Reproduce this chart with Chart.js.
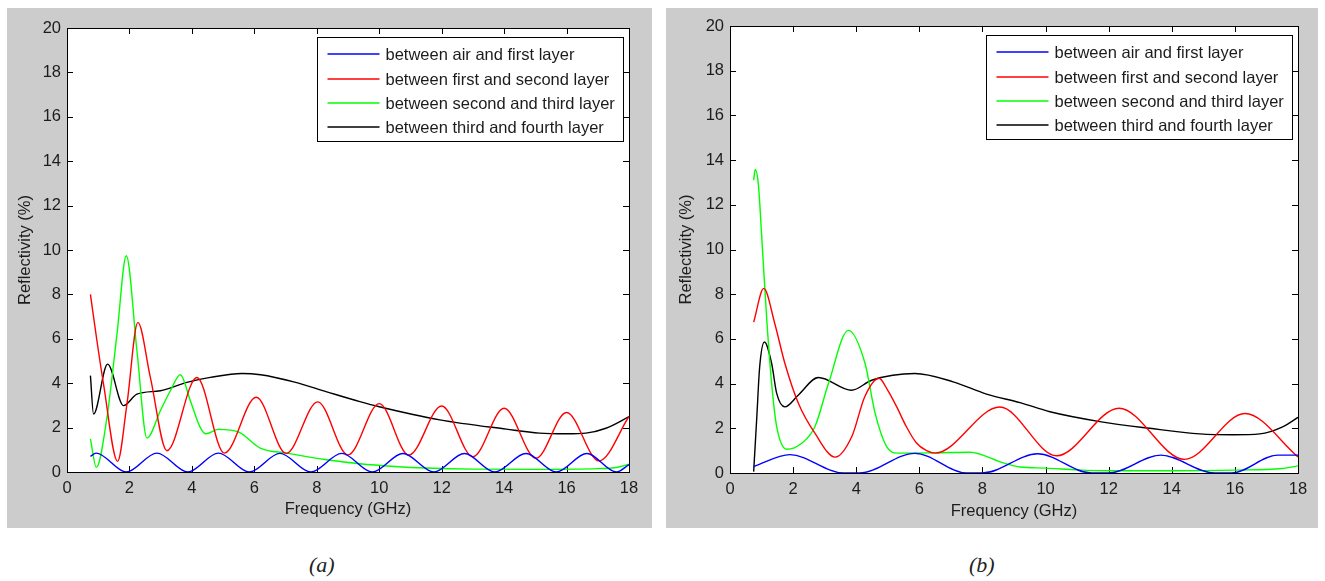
<!DOCTYPE html>
<html>
<head>
<meta charset="utf-8">
<script src="https://cdn.jsdelivr.net/npm/chart.js@4.4.1/dist/chart.umd.min.js"></script>
<style>
  body { margin: 0; width: 1325px; height: 581px; background: #fff; position: relative; overflow: hidden; }
  .panel { position: absolute; background: #cccccc; }
  #panelA { left: 7px; top: 8px; width: 645px; height: 520px; }
  #panelB { left: 666px; top: 8px; width: 652px; height: 520px; }
  .caption { position: absolute; top: 553px; line-height: 24px; font-family: "Liberation Serif", "DejaVu Serif", serif; font-style: italic; font-size: 22px; color: #222; }
</style>
</head>
<body>
<div class="panel" id="panelA"><canvas id="chartA" width="645" height="520"></canvas></div>
<div class="panel" id="panelB"><canvas id="chartB" width="652" height="520"></canvas></div>
<div class="caption" id="capA" style="left:309px"></div>
<div class="caption" id="capB" style="left:969px"></div>
<script>
// legend texts, colours and ticks
const seriesLabels = [
  'between air and first layer',
  'between first and second layer',
  'between second and third layer',
  'between third and fourth layer'
];
const seriesColors = ['#0000ff', '#ff0000', '#00ff00', '#000000'];
const xTicks = [0, 2, 4, 6, 8, 10, 12, 14, 16, 18];
const yTicks = [0, 2, 4, 6, 8, 10, 12, 14, 16, 18, 20];
const xTitle = 'Frequency (GHz)';
const yTitle = 'Reflectivity (%)';
const captions = ['(a)', '(b)'];

// panel (a) (GHz, %)
const blueFreqA = [0.75, 0.93, 1.9, 2.88, 3.87, 4.85, 5.84, 6.82, 7.81, 8.8, 9.78, 10.76, 11.75, 12.73, 13.7, 14.7, 15.67, 16.65, 17.6, 18];
const blueValsA = [0.7, 0.85, 0, 0.85, 0, 0.85, 0, 0.84, 0, 0.84, 0, 0.83, 0, 0.83, 0, 0.83, 0, 0.83, 0, 0.33];
const redFreqA = [0.75, 0.96, 1.17, 1.62, 1.92, 2.27, 2.67, 3.2, 4.16, 5.04, 6.06, 7.02, 8.03, 9.0, 10.0, 10.95, 12.0, 13.0, 14.0, 15.02, 16.0, 17.04, 18];
const redValsA = [8.0, 5.9, 3.96, 0.48, 3.06, 6.74, 4.26, 0.96, 4.26, 0.85, 3.37, 0.84, 3.16, 0.77, 3.08, 0.76, 2.97, 0.69, 2.87, 0.62, 2.68, 0.5, 2.5];
const greenFreqA = [0.75, 0.94, 1.28, 1.6, 1.9, 2.24, 2.56, 2.99, 3.31, 3.63, 3.95, 4.27, 4.45, 4.85, 5.5, 6.19, 7.04, 8.32, 9.38, 10.5, 11.5, 13.0, 15.0, 17.0, 17.6, 18];
const greenValsA = [1.49, 0.21, 2.46, 6.2, 9.74, 5.46, 1.53, 2.76, 3.66, 4.38, 3.21, 2.0, 1.72, 1.92, 1.8, 1.08, 0.85, 0.55, 0.37, 0.25, 0.18, 0.13, 0.12, 0.15, 0.2, 0.35];
const blackFreqA = [0.75, 0.85, 1.3, 1.81, 2.24, 2.99, 3.84, 4.59, 5.6, 6.2, 7.26, 8.32, 9.38, 10.0, 11.94, 14.07, 15.13, 16.0, 16.62, 17.26, 18];
const blackValsA = [4.34, 2.61, 4.86, 2.99, 3.51, 3.66, 4.04, 4.26, 4.44, 4.38, 4.06, 3.61, 3.17, 2.94, 2.35, 1.93, 1.75, 1.72, 1.75, 1.97, 2.49];

// panel (b)
const blueFreqB = [0.75, 1.9, 3.6, 4.1, 5.86, 7.5, 8.0, 9.75, 11.45, 12.0, 13.65, 15.35, 15.9, 17.35, 18];
const blueValsB = [0.29, 0.82, 0, 0, 0.88, 0, 0, 0.86, 0, 0, 0.8, 0, 0, 0.8, 0.8];
const redFreqB = [0.75, 1.07, 1.42, 1.74, 2.17, 2.69, 3.33, 3.86, 4.27, 4.72, 5.0, 5.28, 5.59, 5.91, 6.23, 6.5, 8.55, 10.35, 12.33, 14.4, 16.32, 18];
const redValsB = [6.75, 8.26, 6.68, 4.9, 3.11, 1.78, 0.71, 1.63, 3.41, 4.24, 3.7, 2.97, 2.07, 1.34, 1.0, 0.89, 2.95, 0.77, 2.9, 0.61, 2.66, 0.72];
const greenFreqB = [0.75, 0.8, 0.9, 1.0, 1.16, 1.32, 1.48, 1.8, 2.27, 2.69, 3.12, 3.75, 4.28, 4.6, 4.96, 5.3, 6.5, 7.6, 8.66, 9.2, 10.0, 11.0, 12.0, 14.0, 16.0, 17.5, 18];
const greenValsB = [13.1, 13.58, 12.9, 10.7, 6.97, 4.0, 2.07, 1.06, 1.33, 2.07, 4.0, 6.38, 4.9, 2.67, 1.19, 0.89, 0.9, 0.93, 0.45, 0.27, 0.22, 0.14, 0.1, 0.1, 0.13, 0.2, 0.32];
const blackFreqB = [0.75, 0.85, 0.94, 1.09, 1.32, 1.48, 1.74, 2.16, 2.8, 3.85, 4.49, 5.86, 7.07, 8.13, 9.19, 10.14, 11.72, 13.3, 14.89, 15.94, 16.79, 17.53, 18];
const blackValsB = [0.06, 2.52, 4.74, 5.86, 4.9, 3.56, 2.96, 3.48, 4.27, 3.7, 4.15, 4.45, 4.08, 3.53, 3.15, 2.74, 2.3, 2.0, 1.75, 1.71, 1.75, 2.08, 2.49];

const FONT = '"Liberation Sans", Arial, sans-serif';
const TEXT = '#1c1c1c';

function pts(freqs, vals) {
  return freqs.map((f, i) => ({ x: f, y: vals[i] }));
}

// matlab style box: white area, inner ticks on all sides, legend in the corner
const boxAxes = {
  id: 'boxAxes',
  beforeDraw(chart) {
    const { ctx, chartArea: a } = chart;
    ctx.save();
    ctx.fillStyle = '#ffffff';
    ctx.fillRect(a.left, a.top, a.width, a.height);
    ctx.restore();
  },
  beforeDatasetsDraw(chart) {
    const { ctx, chartArea: a, scales } = chart;
    const len = 6;
    ctx.save();
    ctx.strokeStyle = '#000';
    ctx.lineWidth = 1;
    ctx.beginPath();
    scales.x.ticks.forEach(t => {
      const px = Math.round(scales.x.getPixelForValue(t.value)) + 0.5;
      ctx.moveTo(px, a.bottom); ctx.lineTo(px, a.bottom - len);
      ctx.moveTo(px, a.top); ctx.lineTo(px, a.top + len);
    });
    scales.y.ticks.forEach(t => {
      const py = Math.round(scales.y.getPixelForValue(t.value)) + 0.5;
      ctx.moveTo(a.left, py); ctx.lineTo(a.left + len, py);
      ctx.moveTo(a.right, py); ctx.lineTo(a.right - len, py);
    });
    ctx.stroke();
    ctx.strokeRect(Math.round(a.left) + 0.5, Math.round(a.top) + 0.5, Math.round(a.width), Math.round(a.height));
    ctx.restore();
  },
  afterDatasetsDraw(chart) {
    const { ctx, chartArea: a } = chart;
    const sets = chart.data.datasets;
    ctx.save();
    ctx.font = '16.5px ' + FONT;
    const tw = Math.max(...sets.map(d => ctx.measureText(d.label).width));
    const w = Math.round(68 + tw + 9), h = 104;
    const x0 = Math.round(a.right - 6 - w) + 0.5, y0 = Math.round(a.top + 9) + 0.5;
    ctx.fillStyle = '#fff';
    ctx.fillRect(x0, y0, w, h);
    ctx.strokeStyle = '#000';
    ctx.lineWidth = 1;
    ctx.strokeRect(x0, y0, w, h);
    sets.forEach((d, i) => {
      const y = Math.round(y0 + 16.6 + i * 24.4);
      ctx.strokeStyle = d.borderColor;
      ctx.lineWidth = 1.4;
      ctx.beginPath();
      ctx.moveTo(x0 + 10, y);
      ctx.lineTo(x0 + 62, y);
      ctx.stroke();
      ctx.fillStyle = TEXT;
      ctx.textBaseline = 'middle';
      ctx.fillText(d.label, x0 + 68, y + 1);
    });
    ctx.restore();
  }
};

function makeChart(id, series, box) {
  return new Chart(document.getElementById(id), {
    type: 'line',
    data: {
      datasets: series.map((s, i) => ({
        label: seriesLabels[i],
        data: pts(s[0], s[1]),
        borderColor: seriesColors[i],
        borderWidth: 1.4,
        pointRadius: 0,
        cubicInterpolationMode: 'monotone',
        fill: false
      }))
    },
    options: {
      responsive: false,
      animation: false,
      devicePixelRatio: 1,
      layout: { padding: { top: box.top, right: box.right, left: 0, bottom: 0 } },
      plugins: { legend: { display: false }, tooltip: { enabled: false } },
      scales: {
        x: {
          type: 'linear', min: 0, max: 18,
          afterBuildTicks: s => { s.ticks = xTicks.map(v => ({ value: v })); },
          afterFit: s => { s.height = box.xh; },
          grid: { display: false, drawTicks: false }, border: { display: false },
          ticks: { padding: 7, color: TEXT, maxRotation: 0, font: { family: FONT, size: 16.5 } },
          title: { display: true, text: xTitle, color: TEXT, padding: { top: 0, bottom: box.xtp }, font: { family: FONT, size: 16.5 } }
        },
        y: {
          min: 0, max: 20,
          afterBuildTicks: s => { s.ticks = yTicks.map(v => ({ value: v })); },
          afterFit: s => { s.width = box.yw; },
          grid: { display: false, drawTicks: false }, border: { display: false },
          ticks: { padding: 6, color: TEXT, font: { family: FONT, size: 16.5 } },
          title: { display: true, text: yTitle, color: TEXT, padding: { top: box.ytp, bottom: 0 }, font: { family: FONT, size: 16.5 } }
        }
      }
    },
    plugins: [boxAxes]
  });
}

makeChart('chartA', [
  [blueFreqA, blueValsA], [redFreqA, redValsA], [greenFreqA, greenValsA], [blackFreqA, blackValsA]
], { top: 20, right: 23, yw: 60, xh: 56, xtp: 9, ytp: 9 });

makeChart('chartB', [
  [blueFreqB, blueValsB], [redFreqB, redValsB], [greenFreqB, greenValsB], [blackFreqB, blackValsB]
], { top: 18, right: 20, yw: 64, xh: 55, xtp: 7, ytp: 11 });

document.getElementById('capA').textContent = captions[0];
document.getElementById('capB').textContent = captions[1];
</script>
</body>
</html>
